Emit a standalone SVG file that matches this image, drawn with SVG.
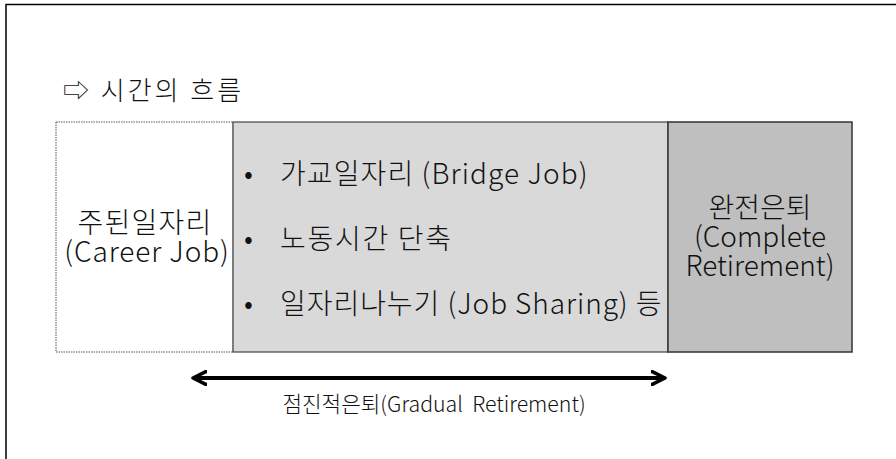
<svg xmlns="http://www.w3.org/2000/svg" width="896" height="459" viewBox="0 0 896 459">
<style>
text{font-family:"Noto Sans CJK KR","Noto Sans",sans-serif;fill:#111;font-weight:300;}
.t{font-size:28px;}
.ttl{font-size:26px;letter-spacing:3px;}
.c{text-anchor:middle;}
.lb{font-size:21.3px;white-space:pre;}
</style>
<defs>
<marker id="ah" viewBox="0 0 10 10" refX="9" refY="5" markerWidth="4" markerHeight="4" orient="auto-start-reverse" markerUnits="strokeWidth">
<path d="M1,1 L9,5 L1,9" fill="none" stroke="#000" stroke-width="2.2" stroke-linecap="round" stroke-linejoin="round"/>
</marker>
</defs>
<rect width="896" height="459" fill="#fff"/>
<path d="M6,459 V4.5 H896" fill="none" stroke="#000" stroke-width="1.5"/>
<text x="63" y="100" class="ttl">⇨ 시간의 흐름</text>
<g id="career">
<rect x="56" y="122" width="177" height="230" fill="#fff" stroke="#555" stroke-width="1" stroke-dasharray="1.5,1"/>
<text x="145" y="233" class="t c" letter-spacing="1.2">주된일자리</text>
<text x="147" y="262" class="t c" letter-spacing="0.9">(Career Job)</text>
</g>
<g id="bridge">
<rect x="233" y="122" width="435" height="230" fill="#d9d9d9" stroke="#444" stroke-width="1.2"/>
<text x="244" y="184" class="t">•</text>
<text x="280" y="184" class="t" letter-spacing="1.1">가교일자리 (Bridge Job)</text>
<text x="244" y="249" class="t">•</text>
<text x="280" y="249" class="t" letter-spacing="1.7">노동시간 단축</text>
<text x="244" y="314" class="t">•</text>
<text x="280" y="314" class="t" letter-spacing="0.95">일자리나누기 (Job Sharing) 등</text>
</g>
<g id="complete">
<rect x="668" y="122" width="184" height="230" fill="#bfbfbf" stroke="#333" stroke-width="1.5"/>
<text x="760" y="218" class="t c">완전은퇴</text>
<text x="760" y="247" class="t c">(Complete</text>
<text x="760" y="276" class="t c">Retirement)</text>
</g>
<g id="connectors">
<line x1="193" y1="378" x2="665" y2="378" stroke="#000" stroke-width="4" marker-start="url(#ah)" marker-end="url(#ah)"/>
</g>
<text x="434" y="412" class="lb c">점진적은퇴(Gradual  Retirement)</text>
</svg>
